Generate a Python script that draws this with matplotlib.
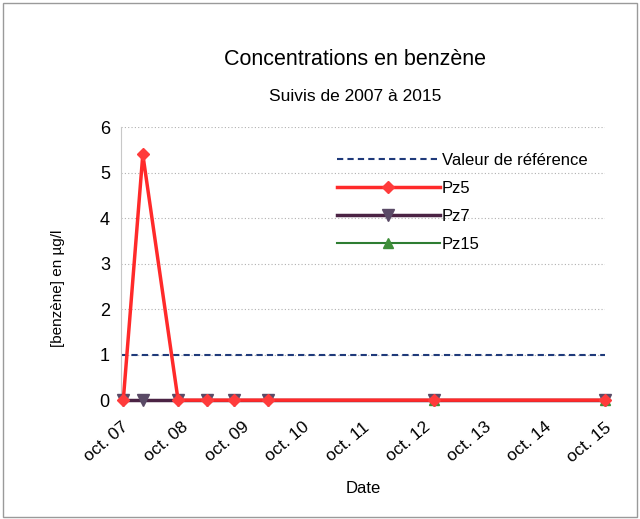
from datetime import datetime
import matplotlib as mpl
import matplotlib.pyplot as plt
import numpy as np

# Sampling dates and concentrations
dates = [
    "2007-10-15", "2008-02-10", "2008-09-10", "2009-03-05",
    "2009-08-15", "2010-03-10", "2012-12-05", "2015-10-01",
]
pz5 = [0.0, 5.4, 0.0, 0.0, 0.0, 0.0, 0.0, 0.0]
pz7 = [0.0, 0.0, 0.0, 0.0, 0.0, 0.0, 0.0, 0.0]
pz15_dates = ["2012-12-05", "2015-10-01"]
pz15 = [0.0, 0.0]
ref_value = 1.0
tick_years = list(range(2007, 2016))

dt = [datetime.strptime(d, "%Y-%m-%d") for d in dates]
dt15 = [datetime.strptime(d, "%Y-%m-%d") for d in pz15_dates]
xmin, xmax = datetime(2007, 10, 1), datetime(2015, 10, 1)

mpl.rcParams["font.family"] = ["Liberation Sans", "DejaVu Sans"]

fig = plt.figure(figsize=(6.4, 5.19), dpi=100)
ax = fig.add_axes([0.189, 0.229, 0.756, 0.526])

ax.plot([xmin, xmax], [ref_value, ref_value], ls=(0, (3, 2)), color="#1f3a7a",
        lw=1.5, label="Valeur de référence")
ax.plot(dt, pz5, color="#ff2a2a", lw=2.5, marker="D", ms=6,
        mfc="#ff3b3b", mec="#ff3b3b", label="Pz5", zorder=4, clip_on=False)
ax.plot(dt, pz7, color="#4b2344", lw=2.5, marker="v", ms=8,
        mfc="#5a4a66", mec="#5a4a66", label="Pz7", zorder=3, clip_on=False)
ax.plot(dt15, pz15, color="#2e7d32", lw=1.5, marker="^", ms=7,
        mfc="#3f8f3a", mec="#3f8f3a", label="Pz15", zorder=2, clip_on=False)

ax.set_xlim(xmin, xmax)
ax.set_ylim(0, 6)
ax.set_yticks(range(0, 7))
ax.set_xticks([datetime(y, 10, 1) for y in tick_years])
ax.set_xticklabels([f"oct. {y % 100:02d}" for y in tick_years],
                   rotation=40, ha="right", rotation_mode="anchor", fontsize=12.5)
ax.tick_params(axis="y", labelsize=13, length=0, pad=8)
ax.tick_params(axis="x", length=0, pad=14)
ax.grid(axis="y", color="#b0b0b0", ls=(0, (1, 2)), lw=0.8)
for side in ["top", "right", "bottom"]:
    ax.spines[side].set_visible(False)
ax.spines["left"].set_color("#c8c8c8")

ax.set_ylabel("[benzène] en µg/l", fontsize=11)
ax.yaxis.set_label_coords(-0.115, 0.41)
ax.set_xlabel("Date", fontsize=12, labelpad=12)

fig.text(0.555, 0.875, "Concentrations en benzène", ha="center", fontsize=15.5)
fig.text(0.555, 0.805, "Suivis de 2007 à 2015", ha="center", fontsize=12.5)

leg = ax.legend(loc="upper right", bbox_to_anchor=(0.995, 0.96), frameon=False,
                fontsize=12, handlelength=6.2, labelspacing=0.78, handletextpad=0.1)

fig.patches.append(mpl.patches.Rectangle((0.004, 0.004), 0.992, 0.99, fill=False,
                                         edgecolor="#9a9a9a", lw=1,
                                         transform=fig.transFigure))

fig.savefig("out.png", dpi=100)
